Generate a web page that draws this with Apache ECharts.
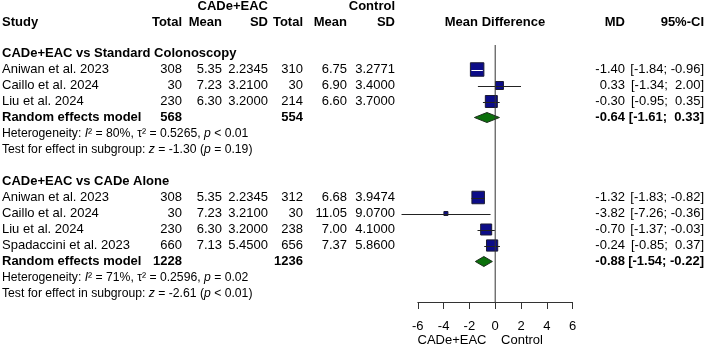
<!DOCTYPE html>
<html><head><meta charset="utf-8">
<script src="https://cdn.jsdelivr.net/npm/echarts@6/dist/echarts.min.js"></script>
<style>html,body{margin:0;padding:0;background:#fff}#c{width:709px;height:348px}</style>
</head><body><div id="c"></div>
<script>
// ---------------- DATA ----------------
const groupTitles = ['CADe+EAC vs Standard Colonoscopy', 'CADe+EAC vs CADe Alone'];
const tickLabels = [-6, -4, -2, 0, 2, 4, 6];

const studies1 = ['Aniwan et al. 2023', 'Caillo et al. 2024', 'Liu et al. 2024'];
const expTotal1 = [308, 30, 230];
const expMean1 = [5.35, 7.23, 6.30];
const expSD1 = [2.2345, 3.2100, 3.2000];
const ctrlTotal1 = [310, 30, 214];
const ctrlMean1 = [6.75, 6.90, 6.60];
const ctrlSD1 = [3.2771, 3.4000, 3.7000];
const md1 = [-1.40, 0.33, -0.30];
const lo1 = [-1.84, -1.34, -0.95];
const hi1 = [-0.96, 2.00, 0.35];
const weight1 = [40.5, 14.2, 32.0];

const studies2 = ['Aniwan et al. 2023', 'Caillo et al. 2024', 'Liu et al. 2024', 'Spadaccini et al. 2023'];
const expTotal2 = [308, 30, 230, 660];
const expMean2 = [5.35, 7.23, 6.30, 7.13];
const expSD2 = [2.2345, 3.2100, 3.2000, 5.4500];
const ctrlTotal2 = [312, 30, 238, 656];
const ctrlMean2 = [6.68, 11.05, 7.00, 7.37];
const ctrlSD2 = [3.9474, 9.0700, 4.1000, 5.8600];
const md2 = [-1.32, -3.82, -0.70, -0.24];
const lo2 = [-1.83, -7.26, -1.37, -0.85];
const hi2 = [-0.82, -0.36, -0.03, 0.37];
const weight2 = [34.8, 3.6, 27.0, 28.0];

const pooledExpN = [568, 1228];
const pooledCtrlN = [554, 1236];
const pooledMD = [-0.64, -0.88];
const pooledLo = [-1.61, -1.54];
const pooledHi = [0.33, -0.22];
const hetI2 = ['80%', '71%'];
const hetTau2 = ['0.5265', '0.2596'];
const hetP = ['< 0.01', '= 0.02'];
const testZ = ['-1.30', '-2.61'];
const testP = ['= 0.19', '< 0.01'];

// ---------------- LAYOUT ----------------
const FONT = '"Liberation Sans", Arial, sans-serif';
const ROW_Y0 = 69.5, ROW_H = 16, H = 348, W = 709;
const COL = {study: 2, eN: 182, eM: 222, eS: 268, cN: 303, cM: 347, cS: 395, fc: 495, md: 625, ci: 704};

const groups = [
  {title: groupTitles[0], st: studies1, eN: expTotal1, eM: expMean1, eS: expSD1, cN: ctrlTotal1, cM: ctrlMean1, cS: ctrlSD1, md: md1, lo: lo1, hi: hi1, w: weight1, start: 0},
  {title: groupTitles[1], st: studies2, eN: expTotal2, eM: expMean2, eS: expSD2, cN: ctrlTotal2, cM: ctrlMean2, cS: ctrlSD2, md: md2, lo: lo2, hi: hi2, w: weight2, start: 8}
];

const items = [];
function txt(x, r, text, o) {
  o = o || {};
  items.push({x: x, r: r, text: String(text), align: o.align || 'right', bold: !!o.bold, size: o.size || 13});
}
function fmtCI(lo, hi) {
  const f = v => (v < 0 ? '' : ' ') + v.toFixed(2);
  return '[' + f(lo) + '; ' + f(hi) + ']';
}

// header
txt(COL.eS, -3.95, 'CADe+EAC', {bold: true});
txt(COL.cS, -3.95, 'Control', {bold: true});
const hr = -2.93;
txt(COL.study, hr, 'Study', {bold: true, align: 'left'});
txt(COL.eN, hr, 'Total', {bold: true});
txt(COL.eM, hr, 'Mean', {bold: true});
txt(COL.eS, hr, 'SD', {bold: true});
txt(COL.cN, hr, 'Total', {bold: true});
txt(COL.cM, hr, 'Mean', {bold: true});
txt(COL.cS, hr, 'SD', {bold: true});
txt(COL.fc, hr, 'Mean Difference', {bold: true, align: 'center'});
txt(COL.md, hr, 'MD', {bold: true});
txt(COL.ci, hr, '95%-CI', {bold: true});

const squares = [], diamonds = [];
groups.forEach((g, gi) => {
  const s = g.start;
  txt(COL.study, s - 1, g.title, {bold: true, align: 'left'});
  g.st.forEach((name, i) => {
    const r = s + i;
    txt(COL.study, r, name, {align: 'left'});
    txt(COL.eN, r, g.eN[i]);
    txt(COL.eM, r, g.eM[i].toFixed(2));
    txt(COL.eS, r, g.eS[i].toFixed(4));
    txt(COL.cN, r, g.cN[i]);
    txt(COL.cM, r, g.cM[i].toFixed(2));
    txt(COL.cS, r, g.cS[i].toFixed(4));
    txt(COL.md, r, g.md[i].toFixed(2));
    txt(COL.ci, r, fmtCI(g.lo[i], g.hi[i]));
    squares.push([g.md[i], r, g.lo[i], g.hi[i], g.w[i]]);
  });
  const pr = s + g.st.length;
  txt(COL.study, pr, 'Random effects model', {bold: true, align: 'left'});
  txt(COL.eN, pr, pooledExpN[gi], {bold: true});
  txt(COL.cN, pr, pooledCtrlN[gi], {bold: true});
  txt(COL.md, pr, pooledMD[gi].toFixed(2), {bold: true});
  txt(COL.ci, pr, fmtCI(pooledLo[gi], pooledHi[gi]), {bold: true});
  diamonds.push([pooledMD[gi], pr, pooledLo[gi], pooledHi[gi]]);
  txt(COL.study, pr + 1, 'Heterogeneity: {it|I}\u00B2 = ' + hetI2[gi] + ', \u03C4\u00B2 = ' + hetTau2[gi] + ', {it|p} ' + hetP[gi], {align: 'left', size: 12.2});
  txt(COL.study, pr + 2, 'Test for effect in subgroup: {it|z} = ' + testZ[gi] + ' ({it|p} ' + testP[gi] + ')', {align: 'left', size: 12.2});
});
// axis captions
txt(452, 16.95, 'CADe+EAC', {align: 'center'});
txt(522, 16.95, 'Control', {align: 'center'});

// forest grid y range (rows): top 45px .. bottom 302px
const fTop = 45, fBot = 302;
const fMin = (fTop - ROW_Y0) / ROW_H, fMax = (fBot - ROW_Y0) / ROW_H;
const tMin = (0 - ROW_Y0) / ROW_H, tMax = (H - ROW_Y0) / ROW_H;

const chart = echarts.init(document.getElementById('c'), null, {renderer: 'canvas'});
chart.setOption({
  animation: false,
  backgroundColor: '#fff',
  grid: [
    {left: 417.8, right: W - 572.6, top: fTop, bottom: H - fBot},
    {left: 0, right: 0, top: 0, bottom: 0}
  ],
  xAxis: [
    {gridIndex: 0, type: 'value', min: -6, max: 6, interval: 2, position: 'bottom',
      axisLine: {show: true, onZero: false, lineStyle: {color: '#333', width: 1}},
      axisTick: {show: true, length: 7, lineStyle: {color: '#333'}},
      axisLabel: {color: '#000', fontSize: 13, fontFamily: FONT, margin: 18,
        formatter: v => (tickLabels.indexOf(v) >= 0 ? String(v) : '')},
      splitLine: {show: false}},
    {gridIndex: 1, type: 'value', min: 0, max: W, show: false}
  ],
  yAxis: [
    {gridIndex: 0, type: 'value', min: fMin, max: fMax, inverse: true, show: false},
    {gridIndex: 1, type: 'value', min: tMin, max: tMax, inverse: true, show: false}
  ],
  series: [
    {type: 'line', xAxisIndex: 0, yAxisIndex: 0, data: [[0, fMin], [0, fMax]], symbol: 'none', silent: true,
      lineStyle: {color: '#333', width: 1}},
    {type: 'custom', xAxisIndex: 0, yAxisIndex: 0, data: squares, silent: true,
      renderItem: (params, api) => {
        const md = api.value(0), r = api.value(1), lo = api.value(2), hi = api.value(3), w = api.value(4);
        const c = api.coord([md, r]), a = api.coord([lo, r]), b = api.coord([hi, r]);
        const s = 2.12 * Math.sqrt(w);
        const inside = a[0] >= c[0] - s / 2 && b[0] <= c[0] + s / 2;
        const y = Math.round(c[1]) + 0.5;
        return {type: 'group', children: [
          {type: 'rect', shape: {x: c[0] - s / 2, y: c[1] - s / 2, width: s, height: s},
            style: {fill: '#0c0c88', stroke: '#1a1a33', lineWidth: 1}},
          {type: 'line', shape: {x1: a[0], y1: y, x2: b[0], y2: y},
            style: {stroke: inside ? '#fff' : '#222', lineWidth: 1}}
        ]};
      }},
    {type: 'custom', xAxisIndex: 0, yAxisIndex: 0, data: diamonds, silent: true,
      renderItem: (params, api) => {
        const md = api.value(0), r = api.value(1), lo = api.value(2), hi = api.value(3);
        const c = api.coord([md, r]), a = api.coord([lo, r]), b = api.coord([hi, r]);
        return {type: 'polygon', shape: {points: [[a[0], c[1]], [c[0], c[1] - 5], [b[0], c[1]], [c[0], c[1] + 5]]},
          style: {fill: '#0b700b', stroke: '#1e2e1e', lineWidth: 1}};
      }},
    {type: 'custom', xAxisIndex: 1, yAxisIndex: 1, data: items.map(it => [it.x, it.r]), silent: true,
      renderItem: (params, api) => {
        const it = items[params.dataIndex];
        const p = api.coord([it.x, it.r]);
        return {type: 'text', x: p[0], y: p[1], style: {
          text: it.text, fill: '#000', fontSize: it.size, fontFamily: FONT,
          fontWeight: it.bold ? 'bold' : 'normal', align: it.align, verticalAlign: 'middle',
          rich: {it: {fontStyle: 'italic', fontSize: it.size, fontFamily: FONT, fill: '#000'}}
        }};
      }}
  ]
});
</script>
</body></html>
